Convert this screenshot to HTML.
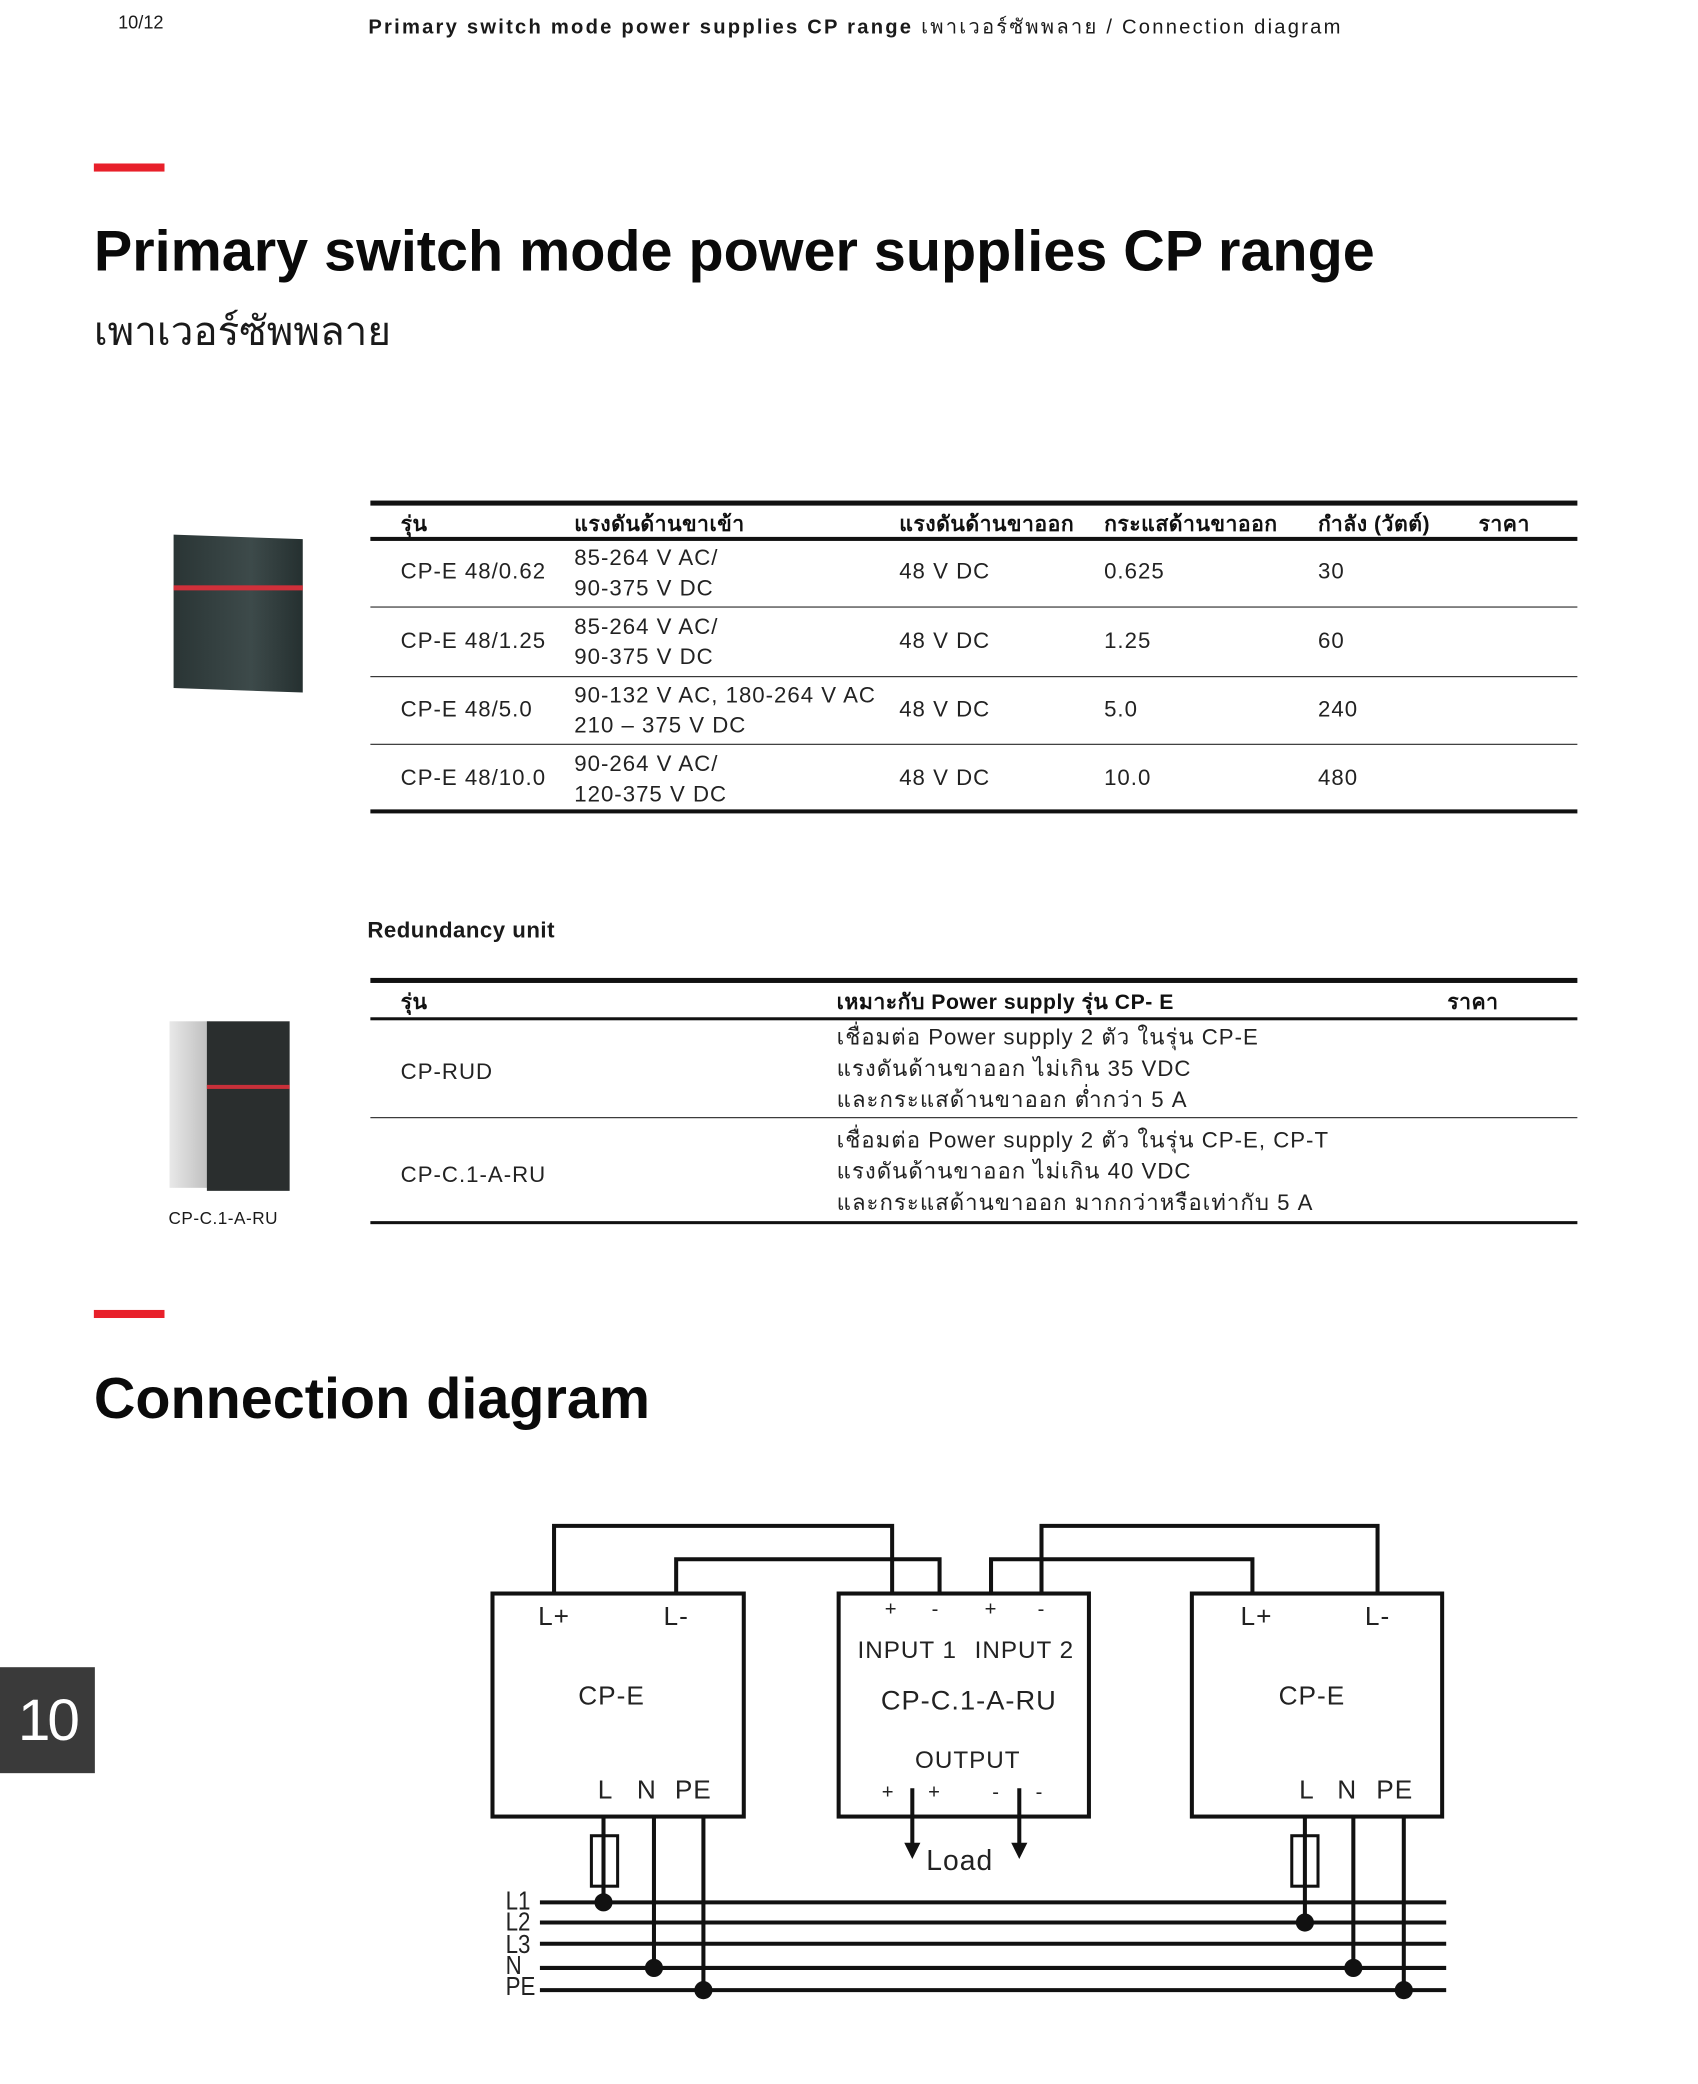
<!DOCTYPE html>
<html><head><meta charset="utf-8"><style>
body{margin:0;width:1698px;height:2065px;background:#fff;position:relative;overflow:hidden;font-family:"Liberation Sans","Noto Sans CJK SC",sans-serif;color:#1a1a1a}
#w{position:absolute;left:0;top:0;width:1698px;height:2065px;transform:scale(1.0092);transform-origin:0 0}
.a{position:absolute;white-space:nowrap}
.t{font-size:22px;color:#222;letter-spacing:1px}
.h{font-size:21px;font-weight:bold;color:#111;letter-spacing:0.5px}
.ln{position:absolute;background:#111}
</style></head><body><div id="w">
<div class="a" style="left:117px;top:12px;font-size:18px">10/12</div>
<div class="a" style="left:365px;top:10px;font-size:20px;letter-spacing:2.2px"><b>Primary switch mode power supplies CP range</b> เพาเวอร์ซัพพลาย / Connection diagram</div>
<div class="a" style="left:93px;top:162px;width:70px;height:8px;background:#e8202a"></div>
<div class="a" style="left:93px;top:216px;font-size:57px;font-weight:bold;color:#0a0a0a">Primary switch mode power supplies CP range</div>
<div class="a" style="left:93px;top:296px;font-size:40px">เพาเวอร์ซัพพลาย</div>

<div class="a" style="left:172px;top:532px;width:128px;height:152px;background:linear-gradient(90deg,#2a3535,#3d4a4a 60%,#253030);transform:skewY(2deg)"></div>
<div class="a" style="left:172px;top:580px;width:128px;height:5px;background:#d0303a"></div>

<div class="ln" style="left:367px;top:496px;width:1196px;height:5px"></div>
<div class="ln" style="left:367px;top:532px;width:1196px;height:4px"></div>
<div class="ln" style="left:367px;top:601px;width:1196px;height:1px"></div>
<div class="ln" style="left:367px;top:670px;width:1196px;height:1px"></div>
<div class="ln" style="left:367px;top:737px;width:1196px;height:1px"></div>
<div class="ln" style="left:367px;top:802px;width:1196px;height:4px"></div>
<div class="a h" style="left:397px;top:503px">รุ่น</div>
<div class="a h" style="left:569px;top:503px">แรงดันด้านขาเข้า</div>
<div class="a h" style="left:891px;top:503px">แรงดันด้านขาออก</div>
<div class="a h" style="left:1094px;top:503px">กระแสด้านขาออก</div>
<div class="a h" style="left:1306px;top:503px">กำลัง (วัตต์)</div>
<div class="a h" style="left:1465px;top:503px">ราคา</div>

<div class="a t" style="left:397px;top:553px">CP-E 48/0.62</div>
<div class="a t" style="left:569px;top:538px;line-height:30px">85-264 V AC/<br>90-375 V DC</div>
<div class="a t" style="left:891px;top:553px">48 V DC</div>
<div class="a t" style="left:1094px;top:553px">0.625</div>
<div class="a t" style="left:1306px;top:553px">30</div>

<div class="a t" style="left:397px;top:622px">CP-E 48/1.25</div>
<div class="a t" style="left:569px;top:606px;line-height:30px">85-264 V AC/<br>90-375 V DC</div>
<div class="a t" style="left:891px;top:622px">48 V DC</div>
<div class="a t" style="left:1094px;top:622px">1.25</div>
<div class="a t" style="left:1306px;top:622px">60</div>

<div class="a t" style="left:397px;top:690px">CP-E 48/5.0</div>
<div class="a t" style="left:569px;top:674px;line-height:30px">90-132 V AC, 180-264 V AC<br>210 – 375 V DC</div>
<div class="a t" style="left:891px;top:690px">48 V DC</div>
<div class="a t" style="left:1094px;top:690px">5.0</div>
<div class="a t" style="left:1306px;top:690px">240</div>

<div class="a t" style="left:397px;top:758px">CP-E 48/10.0</div>
<div class="a t" style="left:569px;top:742px;line-height:30px">90-264 V AC/<br>120-375 V DC</div>
<div class="a t" style="left:891px;top:758px">48 V DC</div>
<div class="a t" style="left:1094px;top:758px">10.0</div>
<div class="a t" style="left:1306px;top:758px">480</div>

<div class="a" style="left:364px;top:909px;font-size:22px;font-weight:bold;letter-spacing:0.5px">Redundancy unit</div>

<div class="a" style="left:168px;top:1012px;width:40px;height:165px;background:linear-gradient(90deg,#e8e8e8,#bdbdbd)"></div>
<div class="a" style="left:205px;top:1012px;width:82px;height:168px;background:#2a2e2e"></div>
<div class="a" style="left:205px;top:1075px;width:82px;height:4px;background:#c8303a"></div>
<div class="a" style="left:167px;top:1198px;font-size:17px;letter-spacing:0.5px">CP-C.1-A-RU</div>

<div class="ln" style="left:367px;top:969px;width:1196px;height:5px"></div>
<div class="ln" style="left:367px;top:1008px;width:1196px;height:3px"></div>
<div class="ln" style="left:367px;top:1107px;width:1196px;height:1px"></div>
<div class="ln" style="left:367px;top:1210px;width:1196px;height:3px"></div>
<div class="a h" style="left:397px;top:977px">รุ่น</div>
<div class="a h" style="left:829px;top:977px">เหมาะกับ Power supply รุ่น CP- E</div>
<div class="a h" style="left:1434px;top:977px">ราคา</div>
<div class="a t" style="left:397px;top:1049px">CP-RUD</div>
<div class="a t" style="left:829px;top:1012px;line-height:31px">เชื่อมต่อ Power supply 2 ตัว ในรุ่น CP-E<br>แรงดันด้านขาออก ไม่เกิน 35 VDC<br>และกระแสด้านขาออก ต่ำกว่า 5 A</div>
<div class="a t" style="left:397px;top:1151px">CP-C.1-A-RU</div>
<div class="a t" style="left:829px;top:1114px;line-height:31px">เชื่อมต่อ Power supply 2 ตัว ในรุ่น CP-E, CP-T<br>แรงดันด้านขาออก ไม่เกิน 40 VDC<br>และกระแสด้านขาออก มากกว่าหรือเท่ากับ 5 A</div>

<div class="a" style="left:93px;top:1298px;width:70px;height:8px;background:#e8202a"></div>
<div class="a" style="left:93px;top:1353px;font-size:57px;font-weight:bold;color:#0a0a0a">Connection diagram</div>

<div class="a" style="left:0;top:1652px;width:94px;height:105px;background:#3a3a3a;color:#fff;font-size:58px;line-height:105px;text-align:center;letter-spacing:-3px">10</div>

<svg class="a" style="left:0;top:0" width="1698" height="2065" font-family="Liberation Sans, sans-serif">
<g fill="none" stroke="#111" stroke-width="4">
<rect x="488" y="1579" width="249" height="221"/>
<rect x="831" y="1579" width="248" height="221"/>
<rect x="1181" y="1579" width="248" height="221"/>
<polyline points="549,1579 549,1512 884,1512 884,1579"/>
<polyline points="670,1579 670,1545 931,1545 931,1579"/>
<polyline points="982,1579 982,1545 1241,1545 1241,1579"/>
<polyline points="1032,1579 1032,1512 1365,1512 1365,1579"/>
<line x1="535" y1="1885" x2="1433" y2="1885"/>
<line x1="535" y1="1905" x2="1433" y2="1905"/>
<line x1="535" y1="1926" x2="1433" y2="1926"/>
<line x1="535" y1="1950" x2="1433" y2="1950"/>
<line x1="535" y1="1972" x2="1433" y2="1972"/>
<line x1="598" y1="1800" x2="598" y2="1885"/>
<line x1="648" y1="1800" x2="648" y2="1950"/>
<line x1="697" y1="1800" x2="697" y2="1972"/>
<line x1="1293" y1="1800" x2="1293" y2="1905"/>
<line x1="1341" y1="1800" x2="1341" y2="1950"/>
<line x1="1391" y1="1800" x2="1391" y2="1972"/>
<rect x="586" y="1819" width="26" height="50" stroke-width="3"/>
<rect x="1280" y="1819" width="26" height="50" stroke-width="3"/>
<line x1="904" y1="1772" x2="904" y2="1830"/>
<line x1="1010" y1="1772" x2="1010" y2="1830"/>
</g>
<g fill="#111">
<circle cx="598" cy="1885" r="9"/><circle cx="648" cy="1950" r="9"/><circle cx="697" cy="1972" r="9"/>
<circle cx="1293" cy="1905" r="9"/><circle cx="1341" cy="1950" r="9"/><circle cx="1391" cy="1972" r="9"/>
<polygon points="896,1826 912,1826 904,1842"/><polygon points="1002,1826 1018,1826 1010,1842"/>
</g>
<g font-size="26" fill="#222" text-anchor="middle" letter-spacing="1">
<text x="549" y="1610">L+</text><text x="670" y="1610">L-</text>
<text x="606" y="1689">CP-E</text>
<text x="600" y="1782">L</text><text x="641" y="1782">N</text><text x="687" y="1782">PE</text>
<text x="1245" y="1610">L+</text><text x="1365" y="1610">L-</text>
<text x="1300" y="1689">CP-E</text>
<text x="1295" y="1782">L</text><text x="1335" y="1782">N</text><text x="1382" y="1782">PE</text>
<text x="883" y="1601" font-size="20">+</text><text x="927" y="1601" font-size="20">-</text>
<text x="982" y="1601" font-size="20">+</text><text x="1032" y="1601" font-size="20">-</text>
<text x="899" y="1643" font-size="24">INPUT 1</text><text x="1015" y="1643" font-size="24">INPUT 2</text>
<text x="960" y="1694" font-size="27">CP-C.1-A-RU</text>
<text x="959" y="1752" font-size="24">OUTPUT</text>
<text x="880" y="1782" font-size="20">+</text><text x="926" y="1782" font-size="20">+</text>
<text x="987" y="1782" font-size="20">-</text><text x="1030" y="1782" font-size="20">-</text>
<text x="951" y="1853" font-size="28">Load</text>
</g>
<g font-size="26" fill="#222" transform="translate(501 0) scale(0.85 1)">
<text x="0" y="1892">L1</text><text x="0" y="1913">L2</text><text x="0" y="1935">L3</text>
<text x="0" y="1956">N</text><text x="0" y="1977">PE</text>
</g>
</svg>
</div></body></html>
